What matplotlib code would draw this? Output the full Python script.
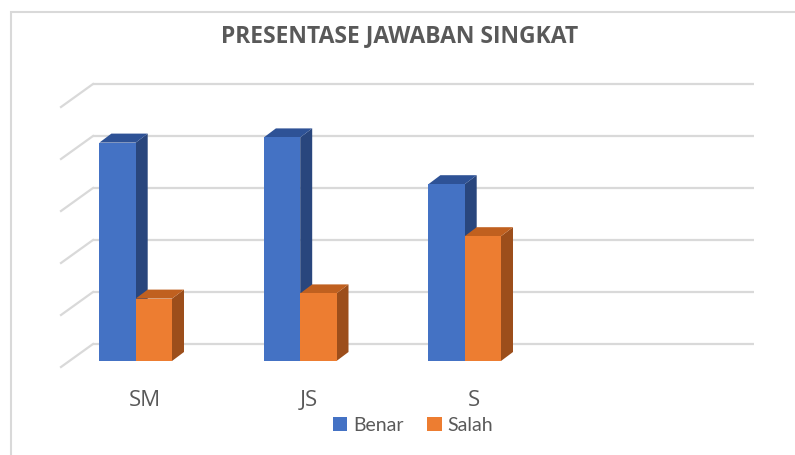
import matplotlib.pyplot as plt
from matplotlib.patches import Polygon, Rectangle, Patch

categories = ['SM', 'JS', 'S', '']
benar = [84, 86, 68, 0]
salah = [24, 26, 48, 0]
series = [('Benar', benar), ('Salah', salah)]
grid_vals = [0, 20, 40, 60, 80, 100]

W, H = 795, 456
px_x = 164.5   # pixels per category
px_y = 2.6     # pixels per value unit
x0_px, y0_px = 135.7, 362  # pixel of category 0 centre / value 0

fig = plt.figure(figsize=(W / 100, H / 100), dpi=100)
ax = fig.add_axes([0, 0, 1, 1])
ax.set_xlim(-x0_px / px_x, (W - x0_px) / px_x)
ax.set_ylim(-(H - y0_px) / px_y, y0_px / px_y)
ax.axis('off')

def dx(p):
    return p / px_x

def dy(p):
    return p / px_y

grid_c = '#d9d9d9'
text_c = '#595959'

# back wall gridlines + floor diagonals
fx, fy = dx(61 - x0_px), dy(-6)
bx, by = dx(93 - x0_px), dy(17)
xr = dx(754 - x0_px)
for g in grid_vals:
    ax.plot([bx, xr], [g + by, g + by], color=grid_c, lw=1.6, solid_capstyle='butt', zorder=1)
    ax.plot([fx, bx], [g + fy, g + by], color=grid_c, lw=1.6, zorder=1)

colors = {
    'Benar': ('#4472c4', '#2e5296', '#29467d'),
    'Salah': ('#ed7d31', '#c0601f', '#9c4e1b'),
}
bw = dx(36.3)
ddx, ddy = dx(12), dy(9)
z = 2
for i, cat in enumerate(categories):
    for k, (name, vals) in enumerate(series):
        v = vals[i]
        if v <= 0:
            continue
        front, top, side = colors[name]
        left = i - bw + k * bw
        right = left + bw
        ax.add_patch(Polygon([[right, 0], [right + ddx, ddy], [right + ddx, v + ddy], [right, v]],
                             closed=True, fc=side, ec='none', zorder=z))
        ax.add_patch(Polygon([[left, v], [left + ddx, v + ddy], [right + ddx, v + ddy], [right, v]],
                             closed=True, fc=top, ec='none', zorder=z))
        ax.bar(left, v, width=bw, align='edge', color=front, zorder=z + 0.5)
        z += 1

for i, cat in enumerate(categories):
    ax.text(i + dx(9), dy(-39), cat, ha='center', va='center', fontsize=16,
            color=text_c, family='Open Sans')

fig.text(0.503, 1 - 36 / H, 'PRESENTASE JAWABAN SINGKAT', ha='center', va='center',
         fontsize=16.5, fontweight='bold', color=text_c, family='Open Sans')

handles = [Patch(facecolor=colors[n][0], label=n) for n, _ in series]
leg = fig.legend(handles=handles, loc='center', bbox_to_anchor=(413 / W, 1 - 426 / H), ncol=2,
                 frameon=False, prop={'family': 'Lato', 'size': 14}, handlelength=0.75,
                 handleheight=0.75, handletextpad=0.3, columnspacing=1.2)
for t in leg.get_texts():
    t.set_color(text_c)

fig.patches.append(Rectangle((11 / W, -0.1), 1.2, 1 - 13 / H + 0.1, transform=fig.transFigure,
                             fill=False, ec='#d9d9d9', lw=1.5))

fig.savefig('out.png', dpi=100)
